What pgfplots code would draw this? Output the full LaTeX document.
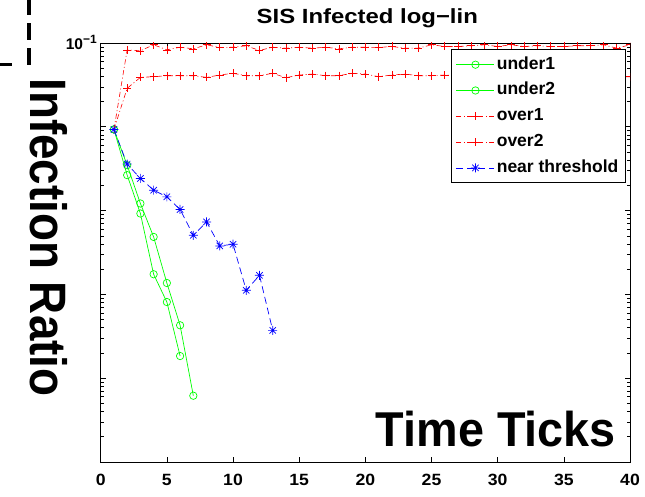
\documentclass[border=0pt]{standalone}
\usepackage{fontspec}
\setmainfont{Liberation Sans}
\newfontfamily\titfont[FakeStretch=1.166]{Liberation Sans}
\newfontfamily\yfont[FakeStretch=0.894]{Liberation Sans}
\newfontfamily\xfont[FakeStretch=0.956]{Liberation Sans}
\newfontfamily\tickfont[FakeStretch=1.08]{Liberation Sans}
\usepackage{graphicx}
\usepackage{pgfplots}
\pgfplotsset{compat=1.18}
\definecolor{mgreen}{rgb}{0,1,0}
\definecolor{mred}{rgb}{1,0,0}
\definecolor{mblue}{rgb}{0,0,1}
\pgfdeclareplotmark{mstar}{%
  \pgfpathmoveto{\pgfqpoint{-\pgfplotmarksize}{0pt}}\pgfpathlineto{\pgfqpoint{\pgfplotmarksize}{0pt}}%
  \pgfpathmoveto{\pgfqpoint{0pt}{-\pgfplotmarksize}}\pgfpathlineto{\pgfqpoint{0pt}{\pgfplotmarksize}}%
  \pgfpathmoveto{\pgfqpoint{-.707\pgfplotmarksize}{-.707\pgfplotmarksize}}\pgfpathlineto{\pgfqpoint{.707\pgfplotmarksize}{.707\pgfplotmarksize}}%
  \pgfpathmoveto{\pgfqpoint{-.707\pgfplotmarksize}{.707\pgfplotmarksize}}\pgfpathlineto{\pgfqpoint{.707\pgfplotmarksize}{-.707\pgfplotmarksize}}%
  \pgfusepathqstroke}

\pgfplotstableread{
x y
1 0.0093
2 0.00348
3 0.001216
4 0.000485
5 0.0001368
6 0.0000428
7 0.00000618
}\tabA
\pgfplotstableread{
x y
1 0.0093
2 0.00265
3 0.000923
4 0.000174
5 0.0000811
6 0.0000184
}\tabB
\pgfplotstableread{
x y
1 0.0093
2 0.0829
3 0.0807
4 0.0952
5 0.0829
6 0.0891
7 0.0852
8 0.0952
9 0.0884
10 0.0891
11 0.0926
12 0.0814
13 0.0891
14 0.0867
15 0.0891
16 0.0867
17 0.0891
18 0.0852
19 0.0891
20 0.0891
21 0.0884
22 0.0909
23 0.0867
24 0.0867
25 0.0952
26 0.0909
27 0.0909
28 0.0926
29 0.0952
30 0.0909
31 0.0952
32 0.0909
33 0.0926
34 0.0909
35 0.0909
36 0.0926
37 0.0926
38 0.0952
39 0.0867
40 0.0952
}\tabC
\pgfplotstableread{
x y
1 0.0093
2 0.0288
3 0.0389
4 0.0396
5 0.0407
6 0.0407
7 0.0407
8 0.0389
9 0.0415
10 0.0435
11 0.0407
12 0.0407
13 0.0435
14 0.0385
15 0.0415
16 0.0426
17 0.0407
18 0.0407
19 0.0435
20 0.0426
21 0.0396
22 0.0415
23 0.0426
24 0.0407
25 0.0407
26 0.0415
27 0.0407
28 0.0426
29 0.0396
30 0.0415
31 0.0407
32 0.0435
33 0.0407
34 0.0389
35 0.0415
36 0.0426
37 0.0407
38 0.0415
39 0.0396
40 0.0396
}\tabD
\pgfplotstableread{
x y
1 0.0093
2 0.00359
3 0.00242
4 0.001754
5 0.001459
6 0.001031
7 0.000508
8 0.000733
9 0.000379
10 0.000397
11 0.000112
12 0.000169
13 0.0000372
}\tabE

\begin{document}
\begin{tikzpicture}[x=1pt,y=1pt]
\path[use as bounding box] (0,0) rectangle (645,497);
\begin{axis}[
  at={(100.7pt,35pt)}, anchor=south west,
  scale only axis, width=529.3pt, height=419pt,
  xmin=0, xmax=40, ymode=log, ymin=1e-6, ymax=1e-1,
  xtick={0,5,...,40},
  axis line style={line width=0.8pt, black},
  tick style={black, line width=0.6pt},
  major tick length=5pt, minor tick length=3pt,
  tick align=inside,
  clip marker paths=true,
  /pgf/number format/assume math mode=true,
  xticklabel style={anchor=base, yshift=-23pt, font=\tickfont\bfseries\fontsize{16.3}{18}\selectfont},
  yticklabel={\ifdim\tick pt>-3pt 10\raisebox{6.5pt}{\fontsize{12}{13}\selectfont −1}\fi},
  yticklabel style={anchor=base east, inner sep=0pt, xshift=-3.7pt, yshift=-7pt, font=\bfseries\fontsize{15.5}{16}\selectfont},
  legend cell align=left,
  legend image code/.code={\draw[mark repeat=2,mark phase=2,#1] plot coordinates {(0pt,0pt) (19pt,0pt) (38pt,0pt)};},
  legend style={at={(rel axis cs:0.992,0.985)}, anchor=north east, draw=black, line width=0.8pt, fill=white,
    font=\bfseries\fontsize{17.5}{19}\selectfont, inner sep=5pt, row sep=5.8pt,
    nodes={inner sep=2pt, text height=12.5pt, text depth=3.5pt}},
]
\addplot[color=mgreen, line width=0.7pt, mark=o, mark size=3.7pt, mark options={solid}] table {\tabA};
\addlegendentry{under1}
\addplot[color=mgreen, line width=0.7pt, mark=o, mark size=3.7pt, mark options={solid}] table {\tabB};
\addlegendentry{under2}
\addplot[color=mred, line width=0.6pt, dash pattern=on 5pt off 2.5pt on 1pt off 2.5pt, mark=+, mark size=4pt, mark options={solid}] table {\tabC};
\addlegendentry{over1}
\addplot[color=mred, line width=0.6pt, dash pattern=on 5pt off 2.5pt on 1pt off 2.5pt, mark=+, mark size=4pt, mark options={solid}] table {\tabD};
\addlegendentry{over2}
\addplot[color=mblue, line width=0.7pt, dash pattern=on 7pt off 4pt, mark=mstar, mark size=4.5pt, mark options={solid}] table {\tabE};
\addlegendentry{near threshold}
\end{axis}
\node[anchor=base, inner sep=0pt] at (367.3,473) {\titfont\bfseries\fontsize{20.5}{22}\selectfont SIS Infected log−lin};
\node[anchor=base, inner sep=0pt, rotate=-90] at (30,259.5) {\yfont\bfseries\fontsize{51.2}{54}\selectfont Infection Ratio};
\node[anchor=base, inner sep=0pt] at (495.8,50.3) {\xfont\bfseries\fontsize{48.9}{52}\selectfont Time Ticks};
\draw[line width=3.5pt, dash pattern=on 17pt off 8pt] (29,432) -- (29,497);
\draw[line width=2.5pt] (0,432.5) -- (12,432.5);
\end{tikzpicture}
\end{document}
